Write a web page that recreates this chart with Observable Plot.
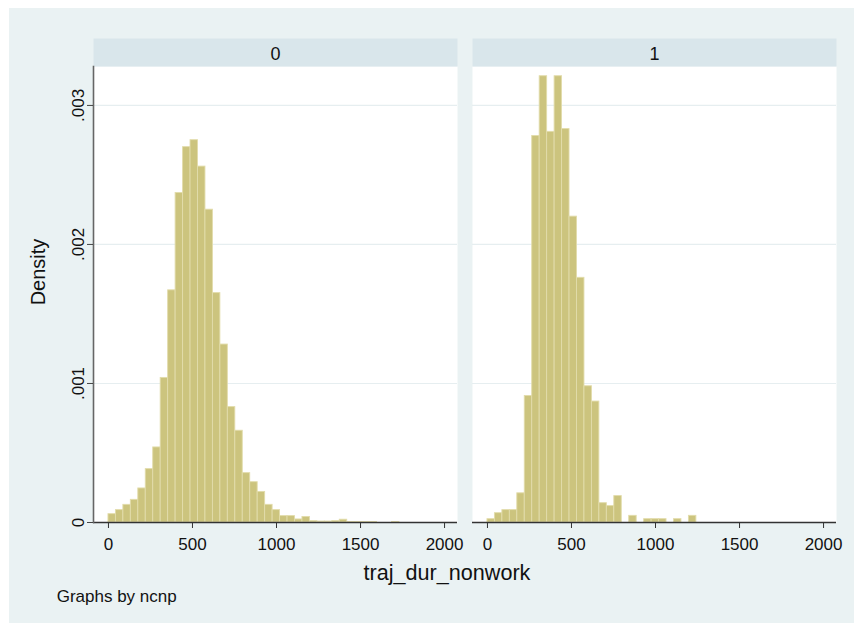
<!DOCTYPE html>
<html>
<head>
<meta charset="utf-8">
<script src="https://cdn.jsdelivr.net/npm/d3@7"></script>
<script src="https://cdn.jsdelivr.net/npm/@observablehq/plot@0.6"></script>
<style>
  html, body { margin: 0; padding: 0; background: #ffffff; }
  #wrap { position: relative; width: 854px; height: 623px; overflow: hidden; font-family: "Liberation Sans", Arial, Helvetica, sans-serif; }
  #bg { position: absolute; left: 9px; top: 8px; right: 0; bottom: 0; background: #eaf2f3; }
  #chart { position: absolute; left: 0; top: 0; }
  .lbl { position: absolute; white-space: nowrap; color: #111; line-height: 1; }
</style>
</head>
<body>
<div id="wrap">
  <div id="bg"></div>
  <div id="chart"></div>
  <div class="lbl" id="ylab" style="font-size:20px; left:38px; top:272px; transform: translate(-50%,-50%) rotate(-90deg);">Density</div>
  <div class="lbl" id="xlab" style="font-size:21.6px; left:447px; top:562.4px; transform: translateX(-50%);">traj_dur_nonwork</div>
  <div class="lbl" id="note" style="font-size:17px; left:56.7px; top:587.9px;">Graphs by ncnp</div>
</div>
<script>
// ---- data ----
const groups = ["0", "1"];
const binStart = 0;
const binWidth = 44.4;
const density0 = [0.00006, 0.000089, 0.000127, 0.000163, 0.000245, 0.000384, 0.00054, 0.00104,
  0.00167, 0.00237, 0.0027, 0.00275, 0.00256, 0.00225, 0.00165, 0.00128, 0.00083, 0.00066,
  0.000355, 0.00029, 0.00022, 0.000127, 0.000089, 0.000046, 0.000046, 0.000022, 0.00004,
  0.00001, 0.000007, 0.000007, 0.00001, 0.00002, 0.000003, 0.000003, 0.000003, 0.000003,
  0, 0, 0.000003];
const density1 = [0.000024, 0.000067, 0.000089, 0.000089, 0.00021, 0.00091, 0.00278, 0.00321,
  0.00281, 0.00321, 0.00283, 0.0022, 0.00176, 0.00098, 0.00087, 0.000139, 0.000118, 0.00019,
  0, 0.000048, 0, 0.000024, 0.000024, 0.000024, 0, 0.000024, 0, 0.000048];
const xTicks = [0, 500, 1000, 1500, 2000];
const yTicks = [0, 0.001, 0.002, 0.003];
const xDomain = [-89, 2077];
const yDomain = [0, 0.00328];

const rows = [];
[density0, density1].forEach((arr, g) => {
  arr.forEach((d, i) => {
    if (d > 0) rows.push({ncnp: groups[g], x1: binStart + i * binWidth, x2: binStart + (i + 1) * binWidth, density: d});
  });
});

const yFmt = d => d === 0 ? "0" : d3.format(".3f")(d).replace(/^0/, "");

const chart = Plot.plot({
  width: 854,
  height: 623,
  marginLeft: 93,
  marginRight: 18,
  marginTop: 66,
  marginBottom: 101,
  style: {background: "transparent", fontFamily: "'Liberation Sans', Arial, Helvetica, sans-serif", color: "#111"},
  fx: {domain: groups, paddingInner: 0.0396, paddingOuter: 0, label: null},
  x: {domain: xDomain},
  y: {domain: yDomain},
  marks: [
    Plot.frame({fill: "white", stroke: null}),
    Plot.frame({fill: "#d9e6eb", stroke: null, insetTop: -28, insetBottom: 456}),
    Plot.gridY(yTicks.slice(1), {stroke: "#e6eef0", strokeOpacity: 1, strokeWidth: 1.2}),
    Plot.rectY(rows, {x1: "x1", x2: "x2", y: "density", fx: "ncnp", fill: "#ccc47e", stroke: "#e2dcab", strokeWidth: 0.9}),
    Plot.ruleY([0], {stroke: "#333", strokeWidth: 1.3}),
    Plot.frame({anchor: "left", facetAnchor: "left", stroke: "#666", strokeWidth: 1.6}),
    Plot.axisFx({anchor: "top", tickSize: 0, tickPadding: 7, fontSize: 18, label: null}),
    Plot.axisX({ticks: xTicks, tickSize: 6, tickPadding: 9.6, fontSize: 17, label: null, tickFormat: d3.format("d"), stroke: "#333"}),
    Plot.axisY({ticks: yTicks, tickSize: 6, tickRotate: -90, tickPadding: 4, fontSize: 17, label: null, tickFormat: yFmt, stroke: "#444"})
  ]
});
document.getElementById("chart").appendChild(chart);
</script>
</body>
</html>
